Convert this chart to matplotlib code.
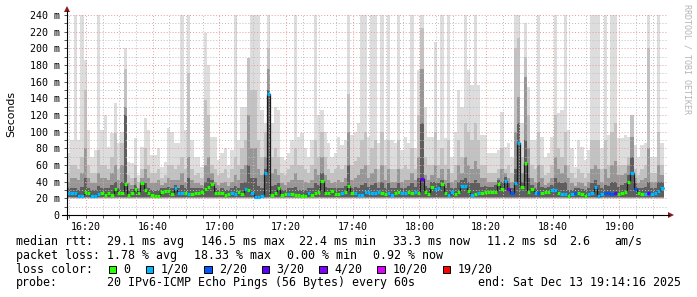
import numpy as np
import matplotlib
matplotlib.use("Agg")
import matplotlib.pyplot as plt
from matplotlib.patches import Rectangle, Polygon
from matplotlib.collections import LineCollection

W, H = 697, 297
MONO = "DejaVu Sans Mono"

# one column per minute, graph window starts 16:14:16
START_MIN = 16 * 60 + 14 + 16 / 60

# smoke, ms per minute (max ping, then upper percentiles)
rtt_max = [
    74, 90, 240, 90, 240, 186, 102, 70, 78, 240,
    102, 120, 82, 98, 134, 86, 100, 200, 64, 62,
    92, 48, 82, 116, 102, 72, 72, 80, 58, 64,
    105, 100, 86, 86, 240, 102, 240, 90, 70, 70,
    58, 218, 180, 94, 94, 66, 74, 80, 60, 78,
    240, 90, 130, 130, 188, 240, 240, 240, 126, 110,
    240, 110, 130, 126, 70, 66, 74, 90, 240, 94,
    98, 80, 70, 90, 240, 120, 126, 100, 86, 70,
    74, 94, 84, 90, 240, 96, 100, 110, 240, 240,
    94, 240, 240, 86, 240, 90, 240, 90, 86, 240,
    78, 94, 86, 240, 80, 174, 240, 130, 94, 94,
    208, 90, 240, 92, 240, 70, 100, 150, 130, 240,
    174, 156, 240, 156, 96, 96, 74, 74, 74, 78,
    124, 82, 86, 70, 240, 240, 110, 230, 154, 90,
    90, 240, 94, 70, 74, 94, 240, 122, 126, 240,
    102, 80, 58, 90, 82, 66, 78, 240, 240, 240,
    80, 240, 96, 240, 240, 92, 92, 96, 94, 94,
    84, 70, 84, 86, 240, 70, 70, 240, 86,
]
rtt_p90 = [
    50, 60, 60, 55, 70, 150, 60, 50, 50, 78,
    60, 60, 55, 70, 98, 55, 86, 175, 48, 45,
    60, 40, 55, 80, 60, 50, 50, 55, 45, 48,
    60, 60, 55, 60, 70, 55, 170, 55, 48, 50,
    45, 138, 120, 60, 55, 48, 50, 55, 45, 55,
    70, 60, 80, 90, 188, 150, 150, 90, 70, 100,
    200, 70, 80, 70, 50, 48, 55, 60, 80, 60,
    60, 55, 50, 60, 90, 70, 100, 70, 55, 50,
    55, 60, 55, 60, 145, 60, 65, 70, 90, 100,
    60, 80, 90, 55, 100, 60, 90, 55, 55, 90,
    55, 60, 55, 80, 55, 120, 224, 70, 60, 60,
    100, 60, 80, 60, 90, 50, 60, 90, 70, 110,
    100, 90, 110, 90, 60, 60, 50, 50, 50, 55,
    80, 55, 60, 50, 200, 212, 70, 190, 120, 60,
    55, 100, 60, 48, 50, 60, 120, 80, 70, 100,
    60, 50, 45, 55, 50, 45, 50, 90, 90, 90,
    55, 90, 60, 100, 110, 60, 60, 60, 70, 120,
    55, 48, 55, 60, 200, 50, 50, 100, 60,
]
rtt_p75 = [
    40, 45, 45, 42, 50, 80, 45, 38, 38, 50,
    45, 45, 42, 50, 60, 42, 60, 130, 38, 36,
    45, 32, 45, 55, 45, 38, 38, 42, 36, 38,
    45, 42, 42, 42, 50, 40, 70, 42, 38, 38,
    36, 60, 70, 50, 40, 36, 38, 40, 35, 40,
    48, 42, 55, 60, 120, 80, 80, 55, 48, 70,
    175, 50, 55, 48, 38, 36, 40, 42, 50, 42,
    42, 40, 38, 42, 55, 48, 70, 48, 42, 38,
    40, 42, 40, 45, 100, 42, 45, 48, 55, 60,
    45, 50, 55, 40, 60, 42, 55, 40, 40, 55,
    40, 42, 42, 50, 42, 70, 175, 48, 42, 48,
    60, 45, 55, 42, 55, 40, 42, 60, 50, 70,
    60, 55, 65, 55, 45, 45, 40, 40, 40, 45,
    55, 50, 45, 40, 100, 142, 50, 166, 80, 45,
    40, 60, 45, 36, 38, 45, 70, 55, 50, 60,
    45, 38, 35, 40, 38, 35, 40, 55, 60, 55,
    40, 55, 45, 60, 65, 48, 48, 50, 60, 94,
    45, 38, 42, 45, 80, 40, 40, 60, 48,
]
rtt_p60 = [
    32, 33, 33, 30, 34, 45, 33, 30, 30, 35,
    33, 32, 32, 36, 40, 33, 40, 120, 30, 31,
    36, 29, 40, 38, 33, 30, 29, 30, 32, 33,
    34, 32, 36, 33, 36, 32, 45, 32, 32, 32,
    32, 40, 45, 42, 32, 30, 32, 30, 30, 33,
    35, 33, 38, 40, 60, 45, 45, 35, 32, 55,
    150, 35, 36, 38, 30, 30, 32, 32, 34, 30,
    30, 30, 32, 32, 38, 36, 50, 34, 33, 33,
    32, 32, 33, 35, 60, 33, 34, 33, 36, 38,
    34, 36, 38, 33, 40, 32, 38, 32, 32, 38,
    32, 33, 35, 38, 34, 45, 110, 35, 32, 40,
    40, 38, 42, 33, 38, 33, 32, 40, 42, 45,
    40, 38, 42, 38, 34, 35, 34, 34, 36, 42,
    40, 46, 38, 32, 55, 110, 40, 90, 45, 36,
    33, 40, 34, 32, 34, 36, 45, 40, 38, 40,
    30, 30, 32, 33, 31, 30, 32, 38, 42, 36,
    32, 36, 35, 40, 40, 34, 36, 38, 48, 70,
    38, 32, 32, 34, 40, 32, 32, 40, 40,
]
rtt_median = [
    27, 27, 27, 23, 23, 28, 27, 23, 23, 25,
    26, 24, 26, 24, 31, 27, 27, 37, 24, 27,
    31, 26, 38, 30, 26, 24, 23, 23, 28, 29,
    29, 25, 32, 27, 26, 27, 25, 25, 27, 27,
    28, 31, 34, 37, 27, 26, 27, 24, 25, 27,
    25, 28, 25, 31, 30, 27, 22, 22, 23, 50,
    145, 24, 27, 32, 24, 25, 25, 25, 24, 24,
    23, 23, 26, 24, 27, 28, 41, 26, 27, 29,
    25, 25, 27, 28, 35, 26, 27, 24, 24, 28,
    28, 26, 27, 28, 27, 25, 27, 24, 26, 28,
    26, 26, 28, 27, 28, 27, 43, 28, 25, 34,
    31, 32, 37, 27, 24, 28, 25, 28, 35, 35,
    29, 24, 25, 27, 27, 28, 28, 28, 28, 37,
    31, 41, 31, 26, 39, 87, 34, 62, 28, 31,
    27, 26, 26, 28, 28, 30, 30, 26, 25, 25,
    23, 25, 27, 26, 25, 23, 25, 26, 34, 23,
    25, 27, 27, 25, 27, 25, 27, 28, 40, 51,
    31, 27, 25, 25, 26, 25, 26, 29, 33,
]
# lost pings out of 20
loss_level = [
    1, 1, 1, 1, 1, 0, 0, 1, 1, 1,
    0, 0, 0, 0, 0, 0, 0, 0, 0, 0,
    0, 0, 0, 0, 0, 0, 0, 0, 0, 0,
    0, 0, 1, 1, 1, 0, 1, 0, 0, 0,
    0, 0, 0, 0, 0, 0, 0, 0, 0, 1,
    1, 0, 0, 1, 0, 1, 1, 1, 1, 1,
    1, 0, 0, 0, 0, 0, 1, 0, 0, 0,
    0, 0, 1, 0, 0, 0, 0, 0, 0, 0,
    0, 0, 1, 0, 0, 0, 1, 1, 1, 1,
    1, 1, 1, 1, 0, 0, 1, 1, 0, 0,
    1, 1, 0, 0, 1, 0, 3, 0, 0, 0,
    1, 1, 0, 0, 1, 1, 0, 0, 1, 1,
    0, 1, 0, 1, 0, 0, 0, 0, 0, 0,
    0, 1, 3, 2, 1, 1, 0, 0, 0, 0,
    1, 2, 0, 0, 0, 1, 1, 0, 1, 1,
    0, 1, 2, 0, 0, 0, 1, 1, 1, 1,
    1, 2, 2, 2, 3, 0, 0, 0, 0, 1,
    2, 0, 0, 1, 3, 1, 1, 1, 1,
]

loss_steps = [0, 1, 2, 3, 4, 10, 19]
loss_labels = ["0", "1/20", "2/20", "3/20", "4/20", "10/20", "19/20"]
loss_colors = ["#26ff00", "#00b8ff", "#0059ff", "#5e00ff", "#7e00ff", "#dd00ff", "#ff0000"]

tick_times = ["16:20", "16:40", "17:00", "17:20", "17:40", "18:00", "18:20", "18:40", "19:00"]

stats_rtt = ["29.1 ms avg", "146.5 ms max", "22.4 ms min", "33.3 ms now", "11.2 ms sd", "2.6", "am/s"]
stats_loss = ["1.78 % avg", "18.33 % max", "0.00 % min", "0.92 % now"]


def to_min(hhmm):
    h, m = hhmm.split(":")
    return int(h) * 60 + int(m) - START_MIN


fig = plt.figure(figsize=(W / 100, H / 100), dpi=100)
fig.patch.set_facecolor("white")
ax = fig.add_axes([67 / W, 1 - 215 / H, 600 / W, 200 / H])
ax.set_facecolor("white")

n = len(rtt_median)
edges = np.arange(n + 1)

# smoke bands, outer (light) first
bands = [(rtt_max, 19.5, "#dddddd"), (rtt_p90, 20.5, "#c2c2c2"),
         (rtt_p75, 21.0, "#979797"), (rtt_p60, 21.5, "#5e5e5e")]
for vals, base, col in bands:
    ax.stairs(vals, edges, baseline=base, fill=True, color=col, lw=0, zorder=1)

# grid over the smoke
minor_x = np.arange(to_min("16:15"), 180, 5)
major_x = [to_min(t) for t in tick_times]
for x in minor_x:
    if not any(abs(x - m) < 0.01 for m in major_x):
        ax.axvline(x, color="#bdbdbd", lw=0.7, ls=(0, (1, 2)), zorder=2)
for y in range(10, 241, 20):
    ax.axhline(y, color="#bdbdbd", lw=0.7, ls=(0, (1, 2)), zorder=2)
for x in major_x:
    ax.axvline(x, color="#e79a9a", lw=0.7, ls=(0, (1, 2)), zorder=2)
for y in range(20, 241, 20):
    ax.axhline(y, color="#e79a9a", lw=0.7, ls=(0, (1, 2)), zorder=2)

# median: dark step line, then loss coloured segments
ax.stairs(rtt_median, edges, baseline=None, color="#1a1a1a", lw=0.9, zorder=3)
segs, cols = [], []
for i, (m, l) in enumerate(zip(rtt_median, loss_level)):
    segs.append([(i, m), (i + 1, m)])
    cols.append(loss_colors[loss_steps.index(l)])
ax.add_collection(LineCollection(segs, colors=cols, linewidths=2.3,
                                 capstyle="butt", zorder=4))

ax.set_xlim(0, 180)
ax.set_ylim(0, 240)
for s in ax.spines.values():
    s.set_visible(False)

ax.set_xticks(major_x)
ax.set_xticklabels(tick_times, fontfamily=MONO, fontsize=7.2)
ax.set_xticks(minor_x, minor=True)
ax.set_yticks(range(0, 241, 20))
ax.set_yticklabels(["0"] + [f"{v} m" for v in range(20, 241, 20)], fontfamily=MONO, fontsize=7.2)
ax.set_yticks(range(10, 241, 20), minor=True)
ax.tick_params(which="both", direction="out", length=2.2, width=0.7, color="#555555")
ax.tick_params(axis="x", which="major", pad=2.5)
ax.tick_params(axis="y", which="major", pad=3)

# axes lines with arrow heads
fig.add_artist(plt.Line2D([62 / W, 669 / W], [1 - 215 / H] * 2, color="black", lw=0.8))
fig.add_artist(plt.Line2D([67 / W] * 2, [1 - 219 / H, 1 - 11 / H], color="black", lw=0.8))
arrow_c = "#8b1a1a"
fig.add_artist(Polygon([(668 / W, 1 - 212 / H), (668 / W, 1 - 218 / H), (674 / W, 1 - 215 / H)],
                       closed=True, transform=fig.transFigure, color=arrow_c, lw=0))
fig.add_artist(Polygon([(64 / W, 1 - 12 / H), (70 / W, 1 - 12 / H), (67 / W, 1 - 6 / H)],
                       closed=True, transform=fig.transFigure, color=arrow_c, lw=0))

fig.text(11 / W, 1 - 114 / H, "Seconds", rotation=90, ha="center", va="center",
         fontsize=7.8, fontfamily="DejaVu Sans")
fig.text(687 / W, 1 - 4 / H, "RRDTOOL / TOBI OETIKER", rotation=270, ha="center", va="top",
         fontsize=6, fontfamily=MONO, color="#b4b4b4")

# legend lines
FS = 8.4


def txt(x, y, s):
    fig.text(x / W, 1 - y / H, s, ha="left", va="center", fontsize=FS, fontfamily=MONO)


y1, y2, y3, y4 = 241.5, 255.2, 269.3, 282.8
txt(16, y1, "median rtt:")
for x, s in zip([107, 200.7, 299.3, 393.3, 486.7, 569.3, 614], stats_rtt):
    txt(x, y1, s)
txt(16, y2, "packet loss:")
for x, s in zip([107, 194, 286.7, 372.7], stats_loss):
    txt(x, y2, s)
txt(16, y3, "loss color:")
box_x = [108.7, 145.7, 204, 261.7, 319.3, 377.3, 442.7]
for bx, lab, c in zip(box_x, loss_labels, loss_colors):
    fig.add_artist(Rectangle((bx / W, 1 - (y3 + 3.8) / H), 7.5 / W, 7.5 / H,
                             transform=fig.transFigure, facecolor=c,
                             edgecolor="black", lw=0.7))
    txt(bx + 15, y3, lab)
txt(16, y4, "probe:")
txt(107, y4, "20 IPv6-ICMP Echo Pings (56 Bytes) every 60s")
txt(478.3, y4, "end: Sat Dec 13 19:14:16 2025")

fig.savefig("out.png", dpi=100)
